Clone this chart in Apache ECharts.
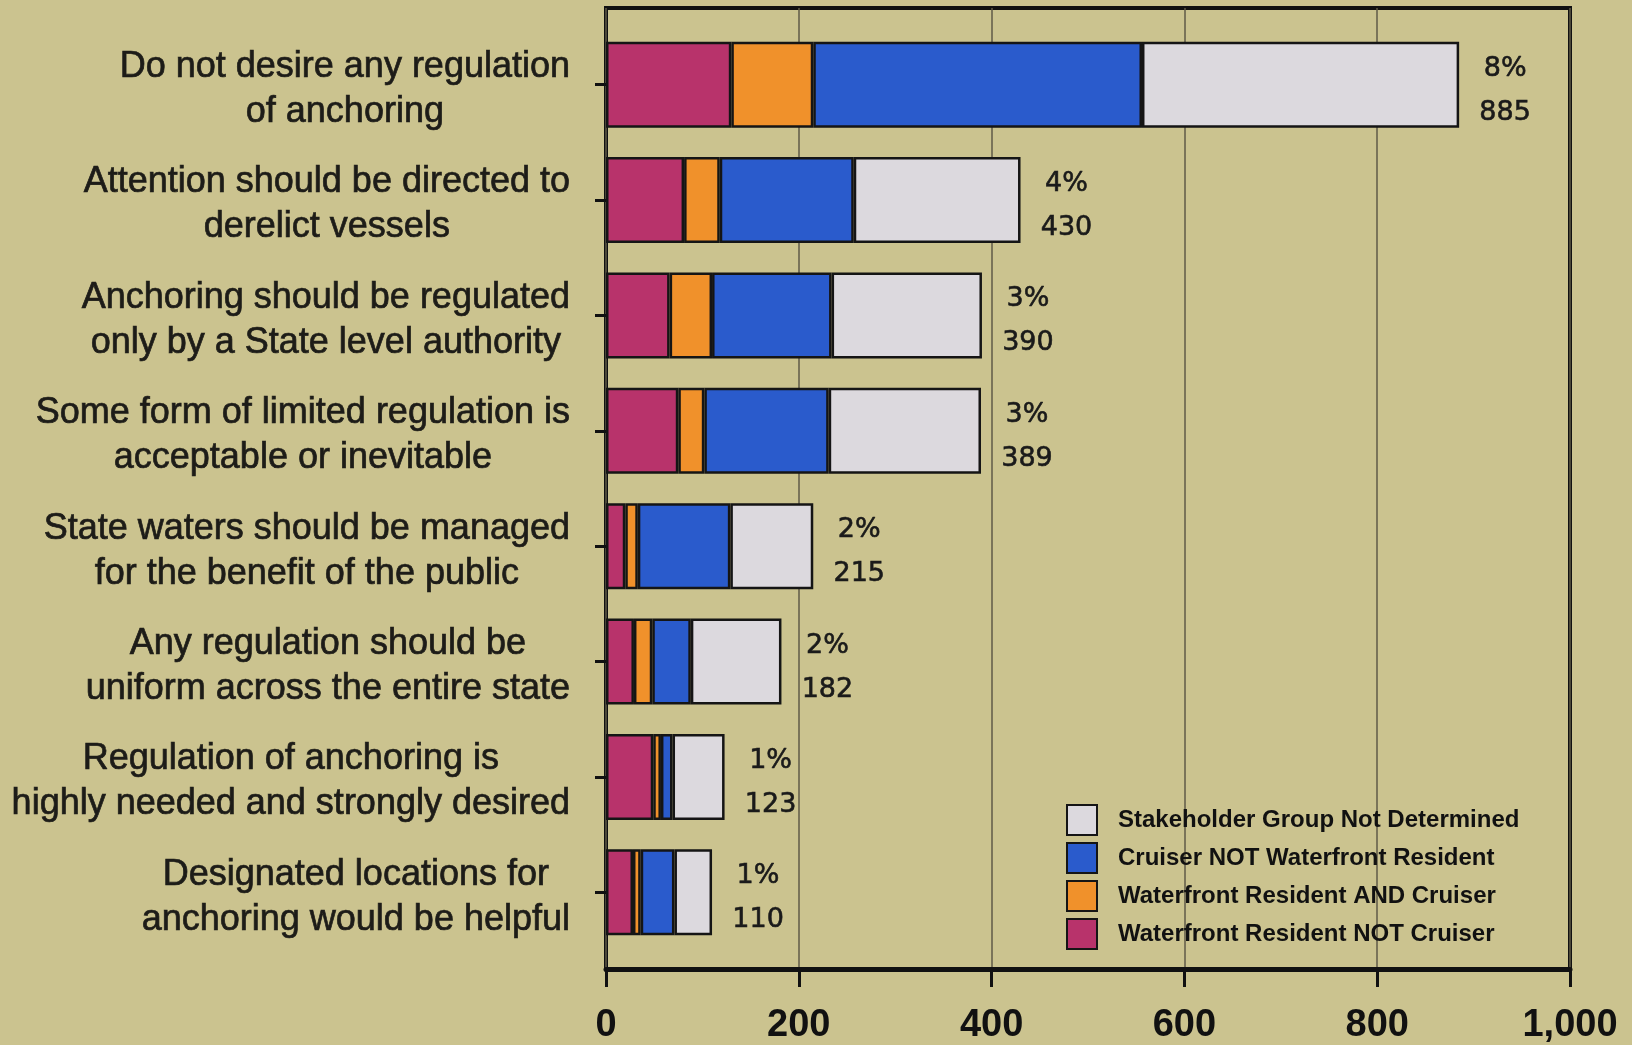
<!DOCTYPE html>
<html><head><meta charset="utf-8">
<script src="https://cdn.jsdelivr.net/npm/echarts@6/dist/echarts.min.js"></script>
<style>html,body{margin:0;padding:0;background:#cbc38f}#c{width:1632px;height:1045px}</style>
</head><body><div id="c"></div>
<script>
const categories = [
  'Do not desire any regulation\nof anchoring',
  'Attention should be directed to\nderelict vessels',
  'Anchoring should be regulated\nonly by a State level authority',
  'Some form of limited regulation is\nacceptable or inevitable',
  'State waters should be managed\nfor the benefit of the public',
  'Any regulation should be\nuniform across the entire state',
  'Regulation of anchoring is\nhighly needed and strongly desired',
  'Designated locations for\nanchoring would be helpful'
];
const seriesNames = [
  'Waterfront Resident NOT Cruiser',
  'Waterfront Resident AND Cruiser',
  'Cruiser NOT Waterfront Resident',
  'Stakeholder Group Not Determined'
];
const residentNotCruiser = [130, 81, 66, 75, 20, 29, 49, 28];
const residentAndCruiser = [85, 37, 44, 27, 13, 19, 8, 8];
const cruiserNotResident = [341, 139, 124, 129, 96, 40, 12, 35];
const notDetermined = [329, 173, 156, 158, 86, 94, 54, 39];
const totals = [885, 430, 390, 389, 215, 182, 123, 110];
const percents = ['8%', '4%', '3%', '3%', '2%', '2%', '1%', '1%'];
const xMin = 0, xMax = 1000, xStep = 200;

const colors = ['#b8336b', '#f0912b', '#2a5bcc', '#dcd9de'];
const seriesData = [residentNotCruiser, residentAndCruiser, cruiserNotResident, notDetermined];

const chart = echarts.init(document.getElementById('c'), null, {renderer: 'canvas'});
const valStyle = {fontFamily: 'DejaVu Sans', fontSize: 27, lineHeight: 44, color: '#1a1a1a', textBorderColor: '#1a1a1a', textBorderWidth: 0.6};
const series = seriesData.map((d, i) => ({
  name: seriesNames[i],
  type: 'bar',
  stack: 'total',
  xAxisIndex: 1,
  yAxisIndex: 1,
  barWidth: 86,
  data: d,
  itemStyle: {color: colors[i], borderColor: '#151515', borderWidth: 2.5},
  label: i === 3 ? {
    show: true,
    position: 'right',
    distance: 46,
    align: 'center',
    offset: [0, 6],
    formatter: p => '{p|' + percents[p.dataIndex] + '}\n{v|' + totals[p.dataIndex] + '}',
    rich: {p: valStyle, v: valStyle}
  } : {show: false},
  emphasis: {disabled: true}
}));

chart.setOption({
  backgroundColor: '#cbc38f',
  animation: false,
  grid: [
    {left: 606, right: 62, top: 8, bottom: 74, show: true, borderColor: '#111', borderWidth: 4, backgroundColor: 'transparent'},
    {left: 606, right: 62, top: 27, bottom: 95}
  ],
  xAxis: [
    {
      gridIndex: 0, type: 'value', min: xMin, max: xMax, interval: xStep,
      axisLine: {show: true, lineStyle: {color: '#111', width: 5}},
      axisTick: {show: true, length: 18, lineStyle: {color: '#111', width: 3}},
      axisLabel: {
        margin: 38, fontFamily: 'Liberation Sans', fontWeight: 'bold', fontSize: 38, color: '#111',
        formatter: v => v.toLocaleString('en-US')
      },
      splitLine: {show: true, lineStyle: {color: '#5f5a47', width: 1.5}}
    },
    {gridIndex: 1, type: 'value', min: xMin, max: xMax, show: false}
  ],
  yAxis: [
    {gridIndex: 0, type: 'value', show: false},
    {
      gridIndex: 1, type: 'category', data: categories, inverse: true,
      axisLine: {show: false},
      axisTick: {show: true, alignWithLabel: true, length: 11, lineStyle: {color: '#111', width: 3}},
      axisLabel: {
        margin: 36, align: 'right', padding: [10, 0, 0, 0],
        formatter: v => v.split('\n').map(s => '{c|' + s + '}').join('\n'),
        rich: {c: {align: 'center', fontFamily: 'Liberation Sans', fontSize: 36, lineHeight: 45, color: '#1d1c18', textBorderColor: '#1d1c18', textBorderWidth: 0.7}}
      }
    }
  ],
  legend: {
    orient: 'vertical',
    left: 1061, top: 799,
    itemWidth: 30, itemHeight: 30, itemGap: 6,
    data: [seriesNames[3], seriesNames[2], seriesNames[1], seriesNames[0]],
    icon: 'rect',
    itemStyle: {borderColor: '#151515', borderWidth: 2},
    textStyle: {fontFamily: 'Liberation Sans', fontWeight: 'bold', fontSize: 24, color: '#111', padding: [0, 0, 0, 16]},
    selectedMode: false
  },
  series: series
});
</script>
</body></html>
